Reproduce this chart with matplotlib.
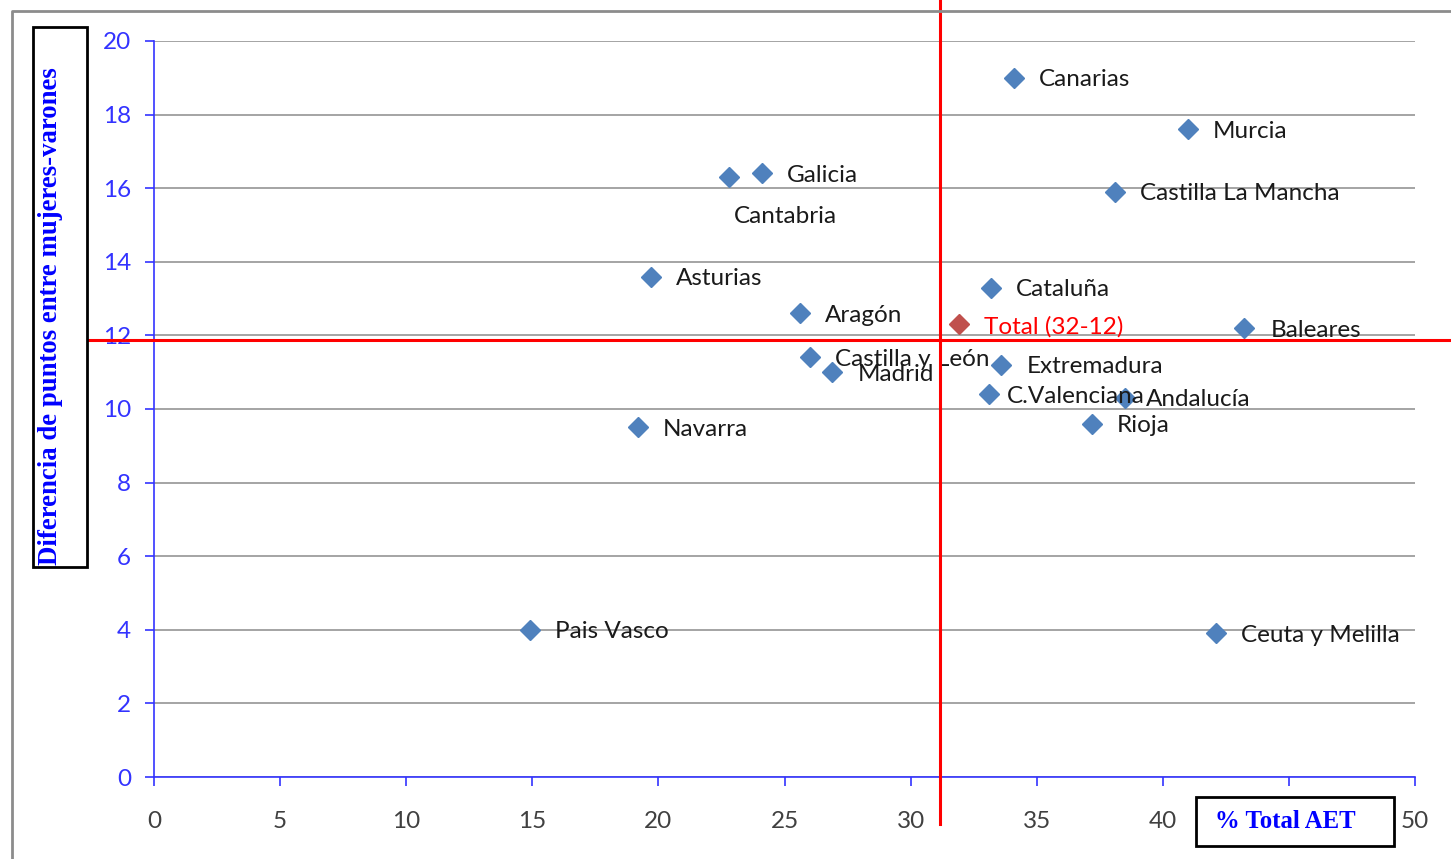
import matplotlib
matplotlib.use("Agg")
import matplotlib.pyplot as plt
from matplotlib.lines import Line2D
from matplotlib.patches import Rectangle

# ---- data ----
regions = ["Canarias", "Murcia", "Galicia", "Cantabria", "Castilla La Mancha",
           "Asturias", "Cataluña", "Aragón", "Baleares", "Castilla y León",
           "Madrid", "Extremadura", "C.Valenciana", "Andalucía", "Rioja",
           "Navarra", "Pais Vasco", "Ceuta y Melilla"]
pct_total_aet = [34.1, 41.0, 24.1, 22.8, 38.1, 19.7, 33.2, 25.6, 43.2, 26.0,
                 26.9, 33.6, 33.1, 38.5, 37.2, 19.2, 14.9, 42.1]
diff_points = [19.0, 17.6, 16.4, 16.3, 15.9, 13.6, 13.3, 12.6, 12.2, 11.4,
               11.0, 11.2, 10.4, 10.3, 9.6, 9.5, 4.0, 3.9]
total_label = "Total (32-12)"
total_x = [31.9]
total_y = [12.3]
ref_x = 31.15   # vertical red reference line
ref_y = 11.87   # horizontal red reference line
x_ticks = [0, 5, 10, 15, 20, 25, 30, 35, 40, 45, 50]
y_ticks = [0, 2, 4, 6, 8, 10, 12, 14, 16, 18, 20]
x_label = "% Total AET"
y_label = "Diferencia de puntos entre mujeres-varones"

W, H = 1451, 859
fig = plt.figure(figsize=(W / 100, H / 100), dpi=100)
plt.rcParams['font.family'] = ['Lato', 'DejaVu Sans']

def fx(x):
    return x / W

def fy(y):
    return 1 - y / H

ax = fig.add_axes([fx(154), fy(777), fx(1415) - fx(154), fy(41) - fy(777)])
ax.set_xlim(0, 50)
ax.set_ylim(0, 20)
ax.set_xticks(x_ticks)
ax.set_yticks(y_ticks)
ax.spines['top'].set_visible(False)
ax.spines['right'].set_visible(False)
blue = '#3333ff'
for s in ('left', 'bottom'):
    ax.spines[s].set_color(blue)
    ax.spines[s].set_linewidth(1.2)
ax.tick_params(axis='y', colors=blue, labelcolor=blue, direction='out',
               length=6.5, width=1.2, pad=10, labelsize=17.5)
ax.tick_params(axis='x', colors=blue, labelcolor='#404040', direction='out',
               length=6.5, width=1.2, pad=18, labelsize=17.5)
ax.yaxis.grid(True, color='#8c8c8c', linewidth=1.1)
ax.set_axisbelow(True)

ax.plot(pct_total_aet, diff_points, linestyle='none', marker='D',
        markersize=10, color='#4f81bd', zorder=3)
ax.plot(total_x, total_y, linestyle='none', marker='D', markersize=10,
        color='#c0504d', zorder=3)

offsets = {"Cantabria": (5, -39), "C.Valenciana": (18, -2), "Andalucía": (21, -2),
           "Baleares": (27, -2)}
for name, x, y in zip(regions, pct_total_aet, diff_points):
    dx, dy = offsets.get(name, (25, -2))
    ax.annotate(name, (x, y), xytext=(dx, dy), textcoords='offset pixels',
                ha='left', va='center', fontsize=17.5, color='#1a1a1a', zorder=4)
ax.annotate(total_label, (total_x[0], total_y[0]), xytext=(25, -2),
            textcoords='offset pixels', ha='left', va='center', fontsize=17.5,
            color='#ff0000', zorder=4)

# red reference lines
ax.plot([ref_x, ref_x], [-1.28, 21.1], color='#ff0000', linewidth=2.2,
        clip_on=False, zorder=5)
ax.plot([-2.62, 51.35], [ref_y, ref_y], color='#ff0000', linewidth=2.2,
        clip_on=False, zorder=5)

# outer frame (cropped)
fig.add_artist(Line2D([fx(12), fx(12), fx(W)], [fy(H), fy(11), fy(11)],
                      transform=fig.transFigure, color='#8c8c8c', linewidth=2))

# y label box
fig.add_artist(Rectangle((fx(33), fy(567)), fx(87) - fx(33), fy(27) - fy(567),
                         transform=fig.transFigure, facecolor='white',
                         edgecolor='black', linewidth=2, zorder=6))
fig.text(fx(51), fy(565), y_label, rotation=90, ha='center', va='bottom',
         family='Liberation Serif', fontweight='bold', fontsize=19.3,
         color='#0000ff', zorder=7)

# x label box (sits over the "45" tick label, which is hidden as in the reference)
fig.canvas.draw()
for lab in ax.get_xticklabels():
    if lab.get_text() == "45":
        lab.set_visible(False)
fig.add_artist(Rectangle((fx(1196), fy(846)), fx(1394) - fx(1196),
                         fy(797) - fy(846), transform=fig.transFigure,
                         facecolor='white', edgecolor='black', linewidth=2,
                         zorder=6))
fig.text(fx(1285), fy(822), x_label, ha='center', va='center',
         family='Liberation Serif', fontweight='bold', fontsize=17.8,
         color='#0000ff', zorder=7)

fig.savefig('out.png', dpi=100)
